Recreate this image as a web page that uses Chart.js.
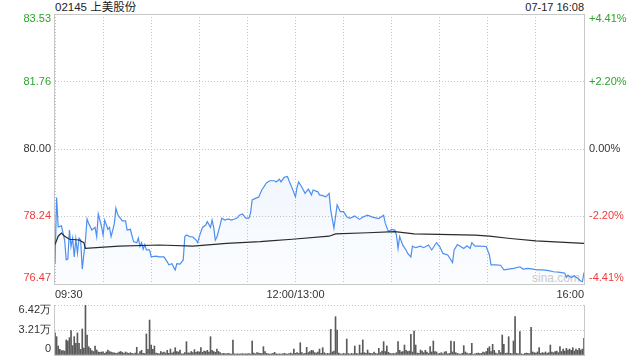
<!DOCTYPE html>
<html>
<head>
<meta charset="utf-8">
<script src="https://cdn.jsdelivr.net/npm/chart.js@4"></script>
<style>
  html, body { margin: 0; padding: 0; background: #fff; }
  body { width: 640px; height: 360px; position: relative; overflow: hidden;
         font-family: "Liberation Sans", Arial, "Noto Sans CJK SC", sans-serif; }
  #title { position: absolute; left: 55px; top: 0px; font-size: 11.5px; line-height: 14px; color: #222; }
  #stamp { position: absolute; right: 56px; top: 1px; font-size: 11px; line-height: 13px; color: #222; }
  #wm { position: absolute; left: 532px; top: 271px; font-size: 12px; line-height: 14px; color: #cdcdcd; }
  #pc { position: absolute; left: 0; top: 0; }
  #vc { position: absolute; left: 0; top: 300px; }
</style>
</head>
<body>
<div id="title">02145 上美股份</div>
<div id="stamp">07-17 16:08</div>
<div id="wm">sina.com</div>
<canvas id="pc" width="640" height="300"></canvas>
<canvas id="vc" width="640" height="60"></canvas>
<script>
// 02145 intraday — minutes from 09:30 (lunch break removed), 0..330

const FONT = '"Liberation Sans", Arial, sans-serif';

const gridMinutes = [0, 30, 60, 90, 120, 150, 180, 210, 240, 270, 300, 330];
const xTickMinutes = [0, 150, 330];
const xTickLabels = ['09:30', '12:00/13:00', '16:00'];

const priceTicks = [83.53, 81.76, 80.00, 78.24, 76.47];
const priceLabels = ['83.53', '81.76', '80.00', '78.24', '76.47'];
const pctLabels = ['+4.41%', '+2.20%', '0.00%', '-2.20%', '-4.41%'];
const tickColors = ['#2aa52a', '#2aa52a', '#333333', '#f23a3a', '#f23a3a'];

const priceMinutes = [
  0, 1, 2, 4, 6, 7, 8, 9, 10, 11, 12, 13, 14, 15, 16, 17, 19, 20, 21, 23,
  25, 26, 27, 29, 30, 31, 33, 34, 35, 37, 38, 39, 40, 42, 44, 45, 47, 49, 51, 52,
  53, 54, 55, 56, 57, 59, 60, 63, 65, 68, 70, 71, 73, 74, 75, 76, 78, 80, 81, 82,
  84, 86, 88, 89, 90, 92, 94, 95, 97, 98, 99, 100, 101, 103, 104, 106, 108, 110, 112, 114,
  115, 117, 119, 121, 122, 123, 125, 127, 129, 132, 134, 137, 138, 140, 141, 143, 145, 146, 148, 150,
  151, 152, 154, 156, 158, 160, 161, 164, 165, 167, 169, 171, 172, 174, 176, 178, 180, 182, 184, 187,
  190, 192, 195, 198, 200, 202, 205, 206, 208, 210, 212, 213, 214, 215, 217, 219, 220, 222, 223, 225,
  228, 230, 233, 235, 237, 238, 240, 242, 245, 248, 249, 251, 253, 255, 257, 259, 260, 262, 265, 269,
  271, 272, 275, 278, 280, 283, 286, 290, 292, 295, 298, 301, 304, 308, 311, 314, 317, 318, 319, 320,
  322, 324, 326, 328, 329, 330
];
const prices = [
  76.99, 78.73, 77.96, 77.99, 77.62, 77.10, 77.12, 77.88, 77.45, 77.67, 77.18, 77.65, 77.28, 77.67, 77.62, 76.86, 77.62, 78.17, 78.05, 77.88,
  77.95, 77.71, 78.30, 77.98, 77.75, 78.14, 77.90, 77.95, 77.71, 78.05, 78.45, 78.30, 78.23, 78.12, 78.12, 77.88, 77.90, 77.58, 77.55, 77.67,
  77.45, 77.55, 77.38, 77.50, 77.36, 77.36, 77.18, 77.20, 77.18, 77.18, 77.05, 76.97, 77.00, 76.91, 76.84, 77.00, 76.99, 77.10, 77.71, 77.75,
  77.71, 77.70, 77.62, 77.55, 77.71, 77.95, 78.01, 78.10, 77.95, 78.14, 77.95, 77.62, 77.70, 78.01, 78.19, 78.14, 78.17, 78.14, 78.17, 78.21,
  78.27, 78.30, 78.19, 78.19, 78.33, 78.67, 78.71, 78.74, 78.93, 79.12, 79.17, 79.17, 79.14, 79.21, 79.14, 79.26, 79.28, 79.17, 78.97, 78.75,
  79.00, 79.14, 79.00, 78.84, 78.95, 78.80, 78.93, 78.88, 78.80, 78.78, 78.75, 78.84, 78.40, 77.93, 78.54, 78.36, 78.36, 78.23, 78.19, 78.25,
  78.16, 78.22, 78.27, 78.22, 78.20, 78.18, 78.27, 78.06, 77.84, 77.90, 77.88, 77.75, 77.40, 77.71, 77.48, 77.36, 77.27, 77.18, 77.46, 77.42,
  77.46, 77.42, 77.49, 77.36, 77.49, 77.55, 77.45, 77.27, 77.23, 77.03, 77.36, 77.50, 77.45, 77.40, 77.47, 77.40, 77.55, 77.46, 77.46, 77.45,
  77.23, 76.97, 76.97, 76.96, 76.84, 76.86, 76.88, 76.92, 76.86, 76.88, 76.86, 76.84, 76.84, 76.82, 76.79, 76.78, 76.76, 76.75, 76.64, 76.70,
  76.64, 76.68, 76.62, 76.55, 76.53, 76.77
];

const avgMinutes = [0, 2, 4, 6, 9, 15, 18, 19, 40, 65, 86, 107, 128, 134, 148, 171, 175, 195, 212, 224, 262, 271, 284, 300, 330];
const avgPrices = [77.50, 77.72, 77.80, 77.72, 77.64, 77.62, 77.55, 77.40, 77.46, 77.49, 77.46, 77.53, 77.58, 77.60, 77.64, 77.72, 77.78, 77.81, 77.84, 77.78, 77.75, 77.72, 77.66, 77.60, 77.53];

// volume per minute, in 万 shares
const volTicks = [6.42, 3.21, 0];
const volLabels = ['6.42万', '3.21万', '0'];
const volumes = [
  2.86, 2.35, 1.16, 0.73, 0.56, 0.56, 0.50, 1.93, 1.80, 2.23,
  3.12, 1.20, 2.35, 1.50, 2.83, 1.50, 0.73, 3.34, 0.90, 6.42,
  2.57, 1.07, 0.86, 0.56, 0.45, 1.16, 0.64, 0.39, 0.35, 0.39,
  0.42, 0.21, 0.39, 0.64, 0.45, 0.39, 0.30, 0.28, 0.21, 0.25,
  0.39, 0.45, 0.35, 0.21, 0.39, 0.28, 0.21, 0.30, 0.21, 0.15,
  0.25, 0.99, 0.15, 0.45, 0.60, 0.21, 0.18, 2.70, 0.73, 4.49,
  1.28, 0.73, 1.16, 0.25, 0.21, 0.15, 0.45, 0.30, 0.39, 0.25,
  0.60, 0.21, 0.77, 0.25, 0.39, 0.94, 0.45, 0.39, 0.64, 0.15,
  0.15, 0.30, 1.71, 0.28, 0.25, 0.45, 0.30, 0.68, 0.35, 0.45,
  0.39, 0.94, 0.35, 0.50, 0.45, 0.60, 0.39, 2.35, 0.60, 0.45,
  0.35, 0.77, 0.45, 0.30, 0.15, 0.21, 0.18, 0.15, 0.21, 0.15,
  0.12, 1.93, 0.15, 0.12, 0.15, 0.12, 0.15, 0.18, 0.12, 0.15,
  0.15, 0.18, 0.12, 1.80, 0.25, 0.15, 0.30, 0.25, 0.21, 0.18,
  1.07, 0.45, 0.21, 0.15, 0.12, 0.15, 0.21, 0.35, 0.15, 0.12,
  0.15, 0.12, 0.15, 0.21, 0.15, 0.12, 0.18, 0.25, 0.15, 0.77,
  0.21, 0.30, 0.21, 1.58, 0.30, 0.15, 0.21, 0.99, 0.30, 0.45,
  0.60, 0.56, 0.30, 0.25, 0.39, 0.77, 0.21, 0.94, 0.30, 0.15,
  0.21, 0.18, 3.30, 0.39, 0.50, 4.92, 3.21, 0.25, 0.15, 0.12,
  0.21, 0.15, 2.05, 0.18, 0.12, 0.21, 0.15, 1.16, 0.21, 0.15,
  1.28, 0.25, 1.93, 0.30, 0.21, 0.64, 0.25, 0.21, 0.18, 0.39,
  0.21, 0.15, 0.86, 0.30, 0.50, 1.71, 0.45, 1.16, 0.35, 0.21,
  0.15, 0.21, 0.15, 0.30, 1.71, 0.60, 0.39, 0.45, 1.28, 0.60,
  0.45, 0.50, 2.65, 0.39, 3.08, 1.28, 0.25, 0.21, 0.64, 0.50,
  0.30, 0.60, 0.39, 0.21, 1.07, 0.39, 1.80, 0.45, 0.39, 0.15,
  0.21, 0.30, 0.15, 0.39, 0.45, 0.15, 0.21, 1.80, 0.39, 1.71,
  0.30, 0.21, 0.15, 0.10, 0.21, 1.20, 0.39, 0.25, 0.15, 0.21,
  1.50, 0.08, 0.15, 0.21, 0.25, 0.18, 0.21, 0.39, 0.30, 0.45,
  0.86, 1.07, 0.45, 1.37, 0.60, 0.25, 0.15, 0.60, 0.30, 2.57,
  1.37, 0.21, 0.25, 2.35, 0.21, 0.15, 1.80, 4.92, 0.21, 0.15,
  3.00, 0.15, 0.10, 0.21, 0.25, 0.21, 0.18, 3.55, 0.39, 0.30,
  0.25, 0.39, 0.94, 0.21, 0.30, 0.25, 0.39, 0.21, 0.30, 1.28,
  0.39, 0.30, 0.45, 0.50, 0.30, 1.07, 0.45, 0.77, 0.50, 0.86,
  0.64, 0.77, 0.60, 0.94, 0.50, 0.77, 0.60, 0.86, 0.64, 0.77, 2.14
];

const GRID = '#c4c4c4';
const FRAME = '#c8c8c8';

// ─── Helpers ────────────────────────────────────────────────────────────────

// draws the solid frame and the side labels of a panel
function sideLabels(ticks, left, right, colors, top) {
  return {
    id: 'sideLabels',
    beforeDatasetsDraw(chart) {
      const { ctx, chartArea: a } = chart;
      const y = chart.scales.y;
      ctx.save();
      ctx.strokeStyle = FRAME;
      ctx.lineWidth = 1;
      ctx.beginPath();
      ctx.moveTo(a.left - 0.5, a.top); ctx.lineTo(a.left - 0.5, a.bottom + 1);
      ctx.moveTo(a.right + 0.5, a.top); ctx.lineTo(a.right + 0.5, a.bottom + 1);
      if (top) { ctx.moveTo(a.left - 0.5, a.top + 0.5); ctx.lineTo(a.right + 0.5, a.top + 0.5); }
      ctx.moveTo(a.left - 0.5, a.bottom + 0.5); ctx.lineTo(a.right + 0.5, a.bottom + 0.5);
      ctx.stroke();

      ctx.font = '11px ' + FONT;
      ctx.textBaseline = 'middle';
      ticks.forEach((v, i) => {
        let py = y.getPixelForValue(v);
        if (i === 0) py += 5;
        if (i === ticks.length - 1) py -= 6;
        ctx.fillStyle = colors ? colors[i] : '#333';
        ctx.textAlign = 'right';
        ctx.fillText(left[i], a.left - 4, py);
        if (right) {
          ctx.textAlign = 'left';
          ctx.fillText(right[i], a.right + 5, py);
        }
      });
      ctx.restore();
    }
  };
}

function fillGradient(ctx) {
  const a = ctx.chart.chartArea;
  if (!a) return 'rgba(77,143,240,0.08)';
  const g = ctx.chart.ctx.createLinearGradient(0, a.top, 0, a.bottom);
  g.addColorStop(0, 'rgba(77,143,240,0.16)');
  g.addColorStop(1, 'rgba(77,143,240,0.02)');
  return g;
}

// ─── Price panel ────────────────────────────────────────────────────────────

new Chart(document.getElementById('pc'), {
  type: 'line',
  data: {
    datasets: [
      {
        data: avgMinutes.map((m, i) => ({ x: m, y: avgPrices[i] })),
        borderColor: '#2b2b2b',
        borderWidth: 1.2,
        pointRadius: 0,
        fill: false,
        tension: 0,
      },
      {
        data: priceMinutes.map((m, i) => ({ x: m, y: prices[i] })),
        borderColor: '#4d8ff0',
        backgroundColor: fillGradient,
        borderWidth: 1.2,
        pointRadius: 0,
        fill: 'start',
        tension: 0,
      },
    ]
  },
  options: {
    responsive: false,
    animation: false,
    layout: { padding: { top: 14, left: 0, right: 0, bottom: 0 } },
    plugins: { legend: { display: false }, tooltip: { enabled: false } },
    scales: {
      x: {
        type: 'linear', min: 0, max: 330,
        afterBuildTicks: s => { s.ticks = gridMinutes.map(v => ({ value: v })); },
        afterFit: s => { s.height = 16; },
        grid: { color: GRID, drawTicks: false },
        border: { display: false, dash: [1, 2] },
        ticks: {
          autoSkip: false, maxRotation: 0, align: 'inner', padding: 4,
          color: '#333', font: { size: 11, family: FONT },
          callback: v => { const i = xTickMinutes.indexOf(v); return i < 0 ? '' : xTickLabels[i]; }
        }
      },
      y: {
        position: 'left', min: 76.47, max: 83.53,
        afterBuildTicks: s => { s.ticks = priceTicks.map(v => ({ value: v })); },
        afterFit: s => { s.width = 55; },
        grid: { color: GRID, drawTicks: false },
        border: { display: false, dash: [1, 2] },
        ticks: { display: false }
      },
      y2: {
        position: 'right', min: 76.47, max: 83.53,
        afterFit: s => { s.width = 56; },
        grid: { display: false, drawTicks: false },
        border: { display: false },
        ticks: { display: false }
      }
    }
  },
  plugins: [sideLabels(priceTicks, priceLabels, pctLabels, tickColors, true)]
});

// ─── Volume panel ───────────────────────────────────────────────────────────

new Chart(document.getElementById('vc'), {
  type: 'bar',
  data: {
    datasets: [{
      data: volumes.map((v, i) => ({ x: i, y: v })),
      backgroundColor: '#5a5a5a',
      barThickness: 1,
    }]
  },
  options: {
    responsive: false,
    animation: false,
    layout: { padding: { top: 5, left: 0, right: 56, bottom: 5 } },
    plugins: { legend: { display: false }, tooltip: { enabled: false } },
    scales: {
      x: { type: 'linear', min: 0, max: 330, offset: false, display: false },
      y: {
        position: 'left', min: 0, max: 6.42,
        afterBuildTicks: s => { s.ticks = volTicks.map(v => ({ value: v })); },
        afterFit: s => { s.width = 55; },
        grid: { color: GRID, drawTicks: false },
        border: { display: false, dash: [1, 2] },
        ticks: { display: false }
      }
    }
  },
  plugins: [sideLabels(volTicks, volLabels, null, null, false)]
});
</script>
</body>
</html>
